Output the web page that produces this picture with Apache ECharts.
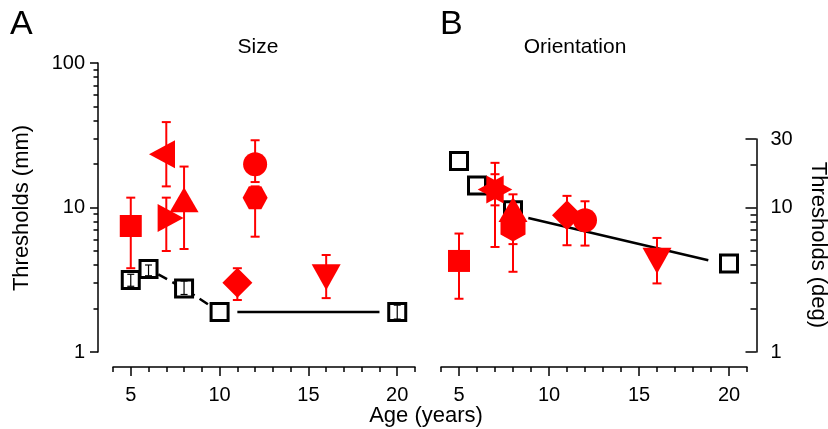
<!DOCTYPE html>
<html><head><meta charset="utf-8">
<script src="https://cdn.jsdelivr.net/npm/echarts@6/dist/echarts.min.js"></script>
<style>html,body{margin:0;padding:0;background:#fff}#c{width:828px;height:429px}</style>
</head><body><div id="c"></div><script>
// ---------- data ----------
const sizeBlackAge = [5, 6, 8, 10, 20];
const sizeBlackThr = [3.15, 3.75, 2.75, 1.89, 1.89];
const sizeBlackErrAge = [5, 6, 8, 20];
const sizeBlackErrLo = [2.85, 3.37, 2.5, 1.69];
const sizeBlackErrHi = [3.45, 4.0, 3.1, 2.11];
const sizeFitAge = [11, 19];
const sizeFitThr = [1.89, 1.89];
const sizeRedMarker = ['square', 'leftTri', 'rightTri', 'upTri', 'circle', 'hexagon', 'diamond', 'downTri'];
const sizeRedAge = [5, 7, 7, 8, 12, 12, 11, 16];
const sizeRedThr = [7.45, 23.4, 8.46, 10.6, 19.9, 11.7, 3.02, 3.52];
const sizeRedLo = [3.8, 14, 5.0, 5.16, 15, 6.28, 2.29, 2.36];
const sizeRedHi = [11.7, 39, 11.7, 19.2, 29.2, 14, 3.8, 4.69];

const oriBlackAge = [5, 6, 8, 20];
const oriBlackThr = [21.1, 14.3, 9.6, 4.11];
const oriFitAge = [8.85, 18.85];
const oriFitThr = [8.5, 4.33];
const oriRedMarker = ['square', 'leftTri', 'rightTri', 'upTri', 'hexagonV', 'diamond', 'circle', 'downTri'];
const oriRedAge = [5, 7, 7, 8, 8, 11, 12, 16];
const oriRedThr = [4.28, 13.4, 13.4, 9.1, 7.3, 8.87, 8.19, 4.6];
const oriRedLo = [2.34, 5.35, 10.4, 5.6, 3.6, 5.5, 5.47, 2.99];
const oriRedHi = [6.63, 20.5, 17.1, 12.4, 9.0, 12.1, 11.1, 6.18];

const ageTicks = [5, 10, 15, 20];
const sizeYTicks = [1, 10, 100];
const sizeYMinor = [2, 3, 4, 5, 6, 7, 8, 9, 20, 30, 40, 50, 60, 70, 80, 90];
const oriYTicks = [1, 10, 30];
const oriYMinor = [2, 3, 4, 5, 6, 7, 8, 9, 20];

// ---------- styles ----------
const FONT = 'Liberation Sans, Arial, sans-serif';
const RED = '#ff0000';
const HEX = 'path://M0,43.3 L25,0 L75,0 L100,43.3 L75,86.6 L25,86.6 Z';
// triangles are centred on their centroid (offset of bounding box)
const markerStyle = {
  square:   {symbol: 'rect', size: [22, 22], rotate: 0, offset: [0, 0]},
  leftTri:  {symbol: 'triangle', size: [28, 26], rotate: 90, offset: [-4.3, 0]},
  rightTri: {symbol: 'triangle', size: [28, 26], rotate: -90, offset: [4.3, 0]},
  upTri:    {symbol: 'triangle', size: [29, 25], rotate: 0, offset: [0, -4.2]},
  downTri:  {symbol: 'triangle', size: [29, 26], rotate: 180, offset: [0, 4.3]},
  circle:   {symbol: 'circle', size: [24, 24], rotate: 0, offset: [0, 0]},
  hexagon:  {symbol: HEX, size: [25, 23], rotate: 0, offset: [0, 0]},
  hexagonV: {symbol: HEX, size: [28, 25], rotate: 90, offset: [0, 0]},
  diamond:  {symbol: 'diamond', size: [30, 30], rotate: 0, offset: [0, 0]}
};

const zip = (a, b) => a.map((v, i) => [v, b[i]]);
const zip3 = (a, b, c) => a.map((v, i) => [v, b[i], c[i]]);
const lg = arr => arr.map(v => Math.log10(v));

function errRender(color, capW, lw) {
  return function (params, api) {
    const x = api.value(0), lo = api.value(1), hi = api.value(2);
    const a = api.coord([x, lo]), b = api.coord([x, hi]);
    const h = capW / 2;
    const st = {stroke: color, lineWidth: lw};
    return {type: 'group', children: [
      {type: 'line', shape: {x1: a[0], y1: a[1], x2: b[0], y2: b[1]}, style: st},
      {type: 'line', shape: {x1: a[0] - h, y1: a[1], x2: a[0] + h, y2: a[1]}, style: st},
      {type: 'line', shape: {x1: b[0] - h, y1: b[1], x2: b[0] + h, y2: b[1]}, style: st}
    ]};
  };
}

const axLine = {color: '#000', width: 1.5};
function xBase(g) {
  return {type: 'value', gridIndex: g, min: 4, max: 21, interval: 1, position: 'bottom', offset: 15,
    axisLine: {show: true, onZero: false, lineStyle: axLine},
    axisTick: {show: true, length: 5, lineStyle: axLine},
    axisLabel: {show: false}, splitLine: {show: false}};
}
function xMajor(g) {
  return {type: 'value', gridIndex: g, min: 4, max: 21, position: 'bottom', offset: 15,
    axisLine: {show: false, onZero: false},
    axisTick: {show: true, length: 9, customValues: ageTicks, lineStyle: axLine},
    axisLabel: {show: true, customValues: ageTicks, fontSize: 20, color: '#000', fontFamily: FONT, margin: 18},
    splitLine: {show: false}};
}
function yLog(g, max, pos, off) {
  return {type: 'log', logBase: 10, gridIndex: g, min: 1, max: max, position: pos, offset: off,
    axisLine: {show: true, lineStyle: axLine}, axisTick: {show: false}, axisLabel: {show: false},
    splitLine: {show: false}, minorTick: {show: false}};
}
function yTicks(g, max, pos, off, vals, len, inside, labels, margin) {
  return {type: 'value', gridIndex: g, min: 0, max: max, position: pos, offset: off,
    axisLine: {show: false},
    axisTick: {show: true, inside: inside, length: len, customValues: lg(vals), lineStyle: axLine},
    axisLabel: labels ? {show: true, customValues: lg(vals), fontSize: 20, color: '#000', fontFamily: FONT,
      margin: margin, formatter: v => String(Math.round(Math.pow(10, v)))} : {show: false},
    splitLine: {show: false}};
}

const blackSq = {color: '#fff', borderColor: '#000', borderWidth: 3, opacity: 1};
const series = [];
// Panel A black
series.push({type: 'line', xAxisIndex: 0, yAxisIndex: 0, data: zip(sizeBlackAge.slice(0, 4), sizeBlackThr.slice(0, 4)),
  symbol: 'none', lineStyle: {color: '#000', width: 2.5, type: [10, 6]}, z: 1, silent: true});
series.push({type: 'line', xAxisIndex: 0, yAxisIndex: 0, data: zip(sizeFitAge, sizeFitThr),
  symbol: 'none', lineStyle: {color: '#000', width: 2.5}, z: 1, silent: true});
series.push({type: 'scatter', xAxisIndex: 0, yAxisIndex: 0, data: zip(sizeBlackAge, sizeBlackThr),
  symbol: 'rect', symbolSize: 17, itemStyle: blackSq, z: 2});
series.push({type: 'custom', xAxisIndex: 0, yAxisIndex: 0, data: zip3(sizeBlackErrAge, sizeBlackErrLo, sizeBlackErrHi),
  encode: {x: 0, y: [1, 2]}, renderItem: errRender('#000', 7, 1.2), z: 3});
// Panel B black
series.push({type: 'line', xAxisIndex: 1, yAxisIndex: 1, data: zip(oriFitAge, oriFitThr),
  symbol: 'none', lineStyle: {color: '#000', width: 2.5}, z: 1, silent: true});
series.push({type: 'scatter', xAxisIndex: 1, yAxisIndex: 1, data: zip(oriBlackAge, oriBlackThr),
  symbol: 'rect', symbolSize: 17, itemStyle: blackSq, z: 2});

function addRed(xi, yi, markers, ages, thr, lo, hi) {
  series.push({type: 'custom', xAxisIndex: xi, yAxisIndex: yi, data: zip3(ages, lo, hi),
    encode: {x: 0, y: [1, 2]}, renderItem: errRender(RED, 9, 2), z: 4});
  markers.forEach((m, i) => {
    const s = markerStyle[m];
    series.push({type: 'scatter', xAxisIndex: xi, yAxisIndex: yi, data: [[ages[i], thr[i]]],
      symbol: s.symbol, symbolSize: s.size, symbolRotate: s.rotate, symbolOffset: s.offset,
      itemStyle: {color: RED, opacity: 1}, z: 5});
  });
}
addRed(0, 0, sizeRedMarker, sizeRedAge, sizeRedThr, sizeRedLo, sizeRedHi);
addRed(1, 1, oriRedMarker, oriRedAge, oriRedThr, oriRedLo, oriRedHi);

const txt = (text, x, y, size, rot, align) => ({type: 'text', x: x, y: y, rotation: rot || 0,
  style: {text: text, fontSize: size, fontFamily: FONT, fill: '#000',
    align: align || 'center', verticalAlign: 'middle', textAlign: align || 'center', textVerticalAlign: 'middle'}});

const option = {
  backgroundColor: '#fff',
  animation: false,
  grid: [
    {left: 113, top: 63, width: 302, height: 289, containLabel: false},
    {left: 441, top: 139, width: 306, height: 213, containLabel: false}
  ],
  xAxis: [xBase(0), xBase(1), xMajor(0), xMajor(1)],
  yAxis: [
    yLog(0, 100, 'left', 15),
    yLog(1, 30, 'right', 9.5),
    yTicks(0, 2, 'left', 15, sizeYTicks, 8, false, true, 13),
    yTicks(0, 2, 'left', 15, sizeYMinor, 4.5, false, false, 0),
    yTicks(1, Math.log10(30), 'right', 9.5, oriYTicks, 11, true, true, 14),
    yTicks(1, Math.log10(30), 'right', 9.5, oriYMinor, 6, true, false, 0)
  ],
  graphic: [
    txt('A', 10, 25, 34, 0, 'left'),
    txt('B', 440, 25, 34, 0, 'left'),
    txt('Size', 258, 47, 21),
    txt('Orientation', 575, 47, 21),
    txt('Thresholds (mm)', 22, 208, 22, Math.PI / 2),
    txt('Thresholds (deg)', 818, 245, 22, -Math.PI / 2),
    txt('Age (years)', 426, 416, 22)
  ],
  series: series
};
const chart = echarts.init(document.getElementById('c'), null, {renderer: 'canvas'});
chart.setOption(option);
</script></body></html>
